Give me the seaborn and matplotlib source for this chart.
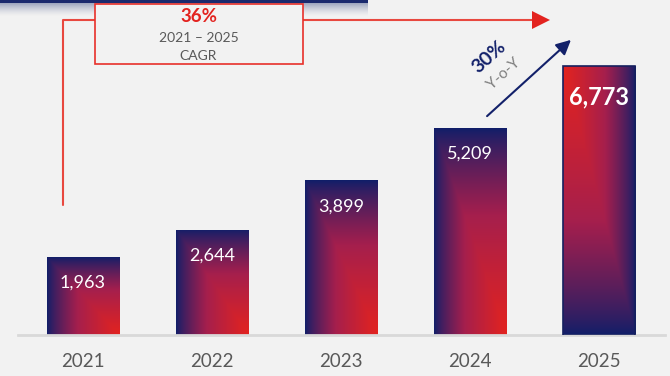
import numpy as np
import pandas as pd
import seaborn as sns
import matplotlib.pyplot as plt
from matplotlib.colors import LinearSegmentedColormap
from matplotlib.patches import Rectangle, Polygon, FancyArrowPatch
from matplotlib.lines import Line2D

# Revenue by year
years = ["2021", "2022", "2023", "2024", "2025"]
values = [1963, 2644, 3899, 5209, 6773]

W, H = 670, 376
BG = "#f2f2f2"
NAVY = "#13216a"
RED = "#e3231f"
GRAY = "#595959"

sns.set_theme(style="white")
plt.rcParams["font.family"] = ["Lato", "DejaVu Sans"]

fig = plt.figure(figsize=(W / 100, H / 100), dpi=100, facecolor=BG)


def fx(px):
    return px / W


def fy(py):
    return 1 - py / H


# main plotting area
ax = fig.add_axes([fx(18), fy(335), (665 - 18) / W, 335 / H], zorder=2)
ax.set_facecolor("none")

df = pd.DataFrame({"year": years, "value": values})
sns.barplot(data=df, x="year", y="value", ax=ax, width=0.56, color=NAVY,
            saturation=1, errorbar=None)

cmap = LinearSegmentedColormap.from_list(
    "navy_red", [(0.0, "#101e69"), (0.5, "#a51f4d"), (1.0, RED)])

N = 200
u, v = np.meshgrid(np.linspace(0, 1, N), np.linspace(0, 1, N))
grad_up = np.minimum(u, v) ** 0.8           # red toward bottom-right
grad_last = np.minimum(1 - u, 1 - v) ** 0.8  # red toward top-left

last = len(values) - 1
for i, bar in enumerate(ax.patches):
    x0, y0 = bar.get_x(), bar.get_y()
    w, h = bar.get_width(), bar.get_height()
    g = grad_last if i == last else grad_up
    im = ax.imshow(g, cmap=cmap, vmin=0, vmax=1, aspect="auto",
                   extent=[x0, x0 + w, y0, y0 + h], zorder=2,
                   interpolation="bilinear")
    im.set_clip_path(bar)
    bar.set_facecolor("none")
    if i == last:
        bar.set_edgecolor("#15205f")
        bar.set_linewidth(1.2)
        bar.set_zorder(3)
    else:
        bar.set_linewidth(0)

    label = f"{values[i]:,}"
    if i == last:
        ax.annotate(label, (x0 + w / 2, y0 + h), xytext=(0, -31),
                    textcoords="offset pixels", ha="center", va="center",
                    color="white", fontsize=17, fontweight="bold", zorder=4)
    else:
        ax.annotate(label, (x0 + w / 2, y0 + h), xytext=(0, -26),
                    textcoords="offset pixels", ha="center", va="center",
                    color="white", fontsize=13, zorder=4)

ax.set_xlim(-0.504, 4.512)
ax.set_ylim(0, 8434)
ax.set_xlabel("")
ax.set_ylabel("")
ax.set_yticks([])
ax.tick_params(axis="x", length=0, pad=13, labelsize=13.5, labelcolor=GRAY)
for s in ["top", "left", "right"]:
    ax.spines[s].set_visible(False)
ax.spines["bottom"].set_color("#d9d9d9")
ax.spines["bottom"].set_linewidth(2)

# header strip with soft shadow in the top-left corner
strip = fig.add_axes([0, fy(16), 368 / W, 16 / H], zorder=1)
rows = 16
shade = np.zeros((rows, 2, 3))
navy_rgb = np.array([27, 42, 110]) / 255
bg_rgb = np.array([242, 242, 242]) / 255
sh_rgb = np.array([160, 168, 192]) / 255
for r in range(rows):
    if r < 3:
        shade[r] = navy_rgb
    else:
        k = (r - 3) / (rows - 3)
        shade[r] = sh_rgb * (1 - k) ** 1.5 + bg_rgb * (1 - (1 - k) ** 1.5)
strip.imshow(shade, aspect="auto", interpolation="bilinear")
strip.axis("off")

# CAGR bracket over the whole period
cagr = (values[-1] / values[0]) ** (1 / (len(values) - 1)) - 1
line_col = "#e8483f"
fig.add_artist(Line2D([fx(62.5), fx(62.5), fx(95)], [fy(205), fy(20), fy(20)],
                      color=line_col, lw=1.5, zorder=5))
fig.add_artist(Line2D([fx(303), fx(534)], [fy(20), fy(20)],
                      color=line_col, lw=1.5, zorder=5))
fig.add_artist(Polygon([(fx(532), fy(11)), (fx(550), fy(20)), (fx(532), fy(29))],
                       closed=True, facecolor=RED, edgecolor="none", zorder=5))
fig.add_artist(Rectangle((fx(95), fy(64)), (303 - 95) / W, 60 / H,
                         facecolor=BG, edgecolor="#e8302a", lw=1.2, zorder=5))
fig.text(fx(199), fy(16), f"{cagr:.0%}", color=RED, fontsize=13.5,
         fontweight="bold", ha="center", va="center", zorder=6)
fig.text(fx(199), fy(38), "2021 \u2013 2025", color=GRAY, fontsize=10,
         ha="center", va="center", zorder=6)
fig.text(fx(198), fy(56), "CAGR", color=GRAY, fontsize=10,
         ha="center", va="center", zorder=6)

# year-over-year growth arrow
yoy = values[-1] / values[-2] - 1
fig.add_artist(FancyArrowPatch((fx(485), fy(118)), (fx(573), fy(38)),
                               transform=fig.transFigure, arrowstyle="-|>",
                               mutation_scale=22, color=NAVY, lw=1.5, zorder=5))
fig.text(fx(489), fy(57), f"{yoy:.0%}", color=NAVY, fontsize=14,
         fontweight="bold", rotation=42, ha="center", va="center", zorder=6)
fig.text(fx(504), fy(74), "Y-o-Y", color="#808080", fontsize=11,
         rotation=42, ha="center", va="center", zorder=6)

fig.savefig("out.png", dpi=100, facecolor=BG)
